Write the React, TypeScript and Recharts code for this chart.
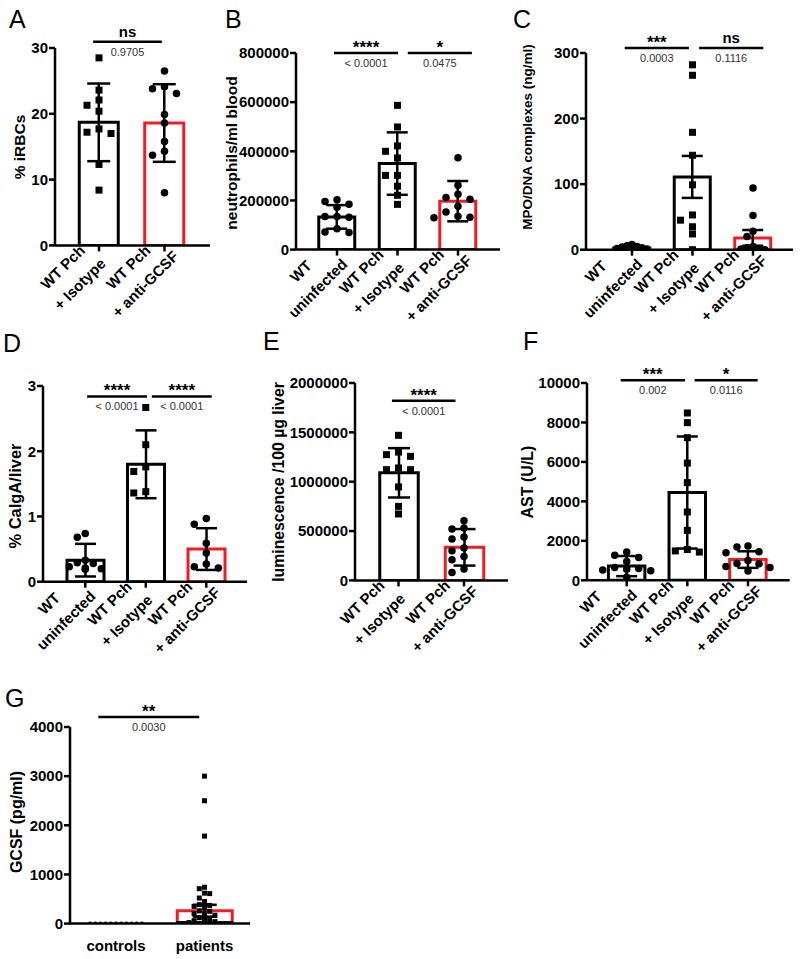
import React from 'react';
import { ComposedChart, Bar, Cell, ErrorBar, Scatter, XAxis, YAxis, ReferenceLine } from 'recharts';

const FONT = '"Liberation Sans", Arial, Helvetica, sans-serif';
const RED = '#ee1c25';
const BLACK = '#000';

// ---- data ----
const twoCats = ['WT Pch|+ Isotype', 'WT Pch|+ anti-GCSF'];
const threeCats = ['WT|uninfected', 'WT Pch|+ Isotype', 'WT Pch|+ anti-GCSF'];

// A: % iRBCs
const aMeans = [18.7, 18.6];
const aErrs = [5.9, 5.9];
const aIsotype = [28.5, 23.6, 22.1, 21.3, 20.4, 17.7, 17.2, 17.0, 12.3, 8.4];
const aAnti = [26.5, 24.1, 23.8, 23.1, 19.9, 18.6, 15.8, 14.3, 13.7, 8.0];
const aStars = ['ns'];
const aP = ['0.9705'];

// B: neutrophils/ml blood
const bMeans = [133000, 350000, 197000];
const bErrs = [48000, 127000, 82000];
const bUninf = [203000, 196000, 185000, 172000, 135000, 135000, 132000, 85000, 72000, 70000];
const bIsotype = [587000, 499000, 422000, 400000, 373000, 302000, 302000, 258000, 221000, 184000];
const bAnti = [374000, 262000, 225000, 212000, 205000, 176000, 153000, 136000, 132000, 130000];
const bStars = ['****', '*'];
const bP = ['< 0.0001', '0.0475'];

// C: MPO/DNA complexes
const cMeans = [2.5, 111, 18];
const cErrs = [1.5, 32, 12];
const cUninf = [8, 6, 5, 4, 3, 2, 1, 1, 0, 0];
const cIsotype = [282, 266, 179, 144, 99, 53, 45, 35, 24, 0];
const cAnti = [94, 52, 28, 20, 5, 3, 2, 1, 0, 0];
const cStars = ['***', 'ns'];
const cP = ['0.0003', '0.1116'];

// D: % CalgA/liver
const dMeans = [0.33, 1.8, 0.5];
const dErrs = [0.25, 0.52, 0.32];
const dUninf = [0.74, 0.68, 0.33, 0.29, 0.28, 0.23, 0.21, 0.2, 0.19];
const dIsotype = [2.67, 2.1, 1.76, 1.69, 1.38, 1.36];
const dAnti = [0.97, 0.88, 0.59, 0.44, 0.27, 0.23, 0.21];
const dStars = ['****', '****'];
const dP = ['< 0.0001', '< 0.0001'];

// E: luminescence /100 µg liver
const eMeans = [1090000, 335000];
const eErrs = [250000, 185000];
const eIsotype = [1470000, 1300000, 1274000, 1257000, 1139000, 1122000, 1122000, 947000, 750000, 673000];
const eAnti = [605000, 531000, 521000, 440000, 420000, 328000, 300000, 243000, 210000, 115000, 81000];
const eStars = ['****'];
const eP = ['< 0.0001'];

// F: AST (U/L)
const fMeans = [720, 4450, 1050];
const fErrs = [510, 2840, 420];
const fUninf = [1430, 1270, 1150, 950, 650, 600, 560, 520, 480, 150];
const fIsotype = [8480, 7990, 7230, 5940, 4950, 3460, 2530, 1560, 1490, 1430];
const fAnti = [1740, 1690, 1450, 1400, 1000, 850, 840, 700, 650, 470];
const fStars = ['***', '*'];
const fP = ['0.002', '0.0116'];

// G: GCSF (pg/ml)
const gCats = ['controls', 'patients'];
const gMeans = [0, 262];
const gErrs = [0, 120];
const gControls = [0, 0, 0, 0, 0, 0, 0, 0, 0, 0, 0];
const gPatients = [
  3000, 2500, 1780, 740, 710, 620, 610, 520, 450, 385, 370, 350, 330, 260, 250, 200, 200, 170,
  120, 100, 80, 60, 40, 20, 0, 0, 0, 0, 0, 0, 0, 0, 0, 0, 0, 0, 0, 0, 0, 0, 0, 0, 0, 0,
];
const gStars = ['**'];
const gP = ['0.0030'];

// simple column beeswarm: returns a column index per value
function swarm(values: number[], pxPerUnit: number, gap: number, maxCols: number): number[] {
  const cols = [0];
  for (let j = 1; j <= maxCols; j++) cols.push(-j, j);
  const placed: { c: number; y: number }[] = [];
  const out = values.map(() => 0);
  let spill = 0;
  values
    .map((_, i) => i)
    .sort((a, b) => values[b] - values[a])
    .forEach((i) => {
      const y = values[i] * pxPerUnit;
      let c = cols.find((cc) => placed.every((p) => p.c !== cc || Math.abs(p.y - y) >= gap));
      if (c === undefined) c = cols[spill++ % cols.length];
      placed.push({ c, y });
      out[i] = c;
    });
  return out;
}

const axisStyle = { stroke: BLACK, strokeWidth: 2.5 };

const Marker = ({ cx, cy, kind, size }: any) => {
  if (cx == null || cy == null) return null;
  if (kind === 'square') {
    return <rect x={cx - size / 2} y={cy - size / 2} width={size} height={size} fill={BLACK} />;
  }
  return <circle cx={cx} cy={cy} r={size / 2} fill={BLACK} />;
};

const SlantTick = ({ x, y, payload }: any) => {
  const lines = String(payload.value).split('|');
  return (
    <g transform={`translate(${x},${y - 6})`}>
      <text transform="rotate(-45)" textAnchor="middle" fontFamily={FONT} fontWeight="bold" fontSize={15} fill={BLACK}>
        {lines.map((t, i) => (
          <tspan key={i} x={-41} y={-5 + i * 24}>
            {t}
          </tspan>
        ))}
      </text>
    </g>
  );
};

const FlatTick = ({ x, y, payload }: any) => (
  <text x={x} y={y - 6 + 27} textAnchor="middle" fontFamily={FONT} fontWeight="bold" fontSize={15} fill={BLACK}>
    {payload.value}
  </text>
);

const bracketLabel = (stars: string, p: string) => (props: any) => {
  const vb = props.viewBox;
  if (!vb) return null;
  const cx = vb.x + (vb.width || 0) / 2;
  const y = vb.y;
  const ns = !stars.includes('*');
  return (
    <g>
      <text x={cx} y={ns ? y - 5 : y} textAnchor="middle" fontFamily={FONT} fontWeight="bold" fontSize={ns ? 15 : 17} fill={BLACK}>
        {stars}
      </text>
      <text x={cx} y={y + 14} textAnchor="middle" fontFamily={FONT} fontSize={11} fill="#333">
        {p}
      </text>
    </g>
  );
};

interface PanelCfg {
  left: number; top: number; w: number; h: number; padL: number; padR: number;
  yMax: number; yStep: number;
  cats: string[]; means: number[]; errs: number[]; colors: string[];
  groups: number[][]; shapes: string[]; sizes: number[]; steps: number[]; maxCols: number[];
  gap: number; barSize: number; capW: number;
  brackets: { x1: number; x2: number; y: number }[]; stars: string[]; ps: string[];
  slanted: boolean;
}

const Panel = ({ c }: { c: PanelCfg }) => {
  const n = c.cats.length;
  const bw = (c.w - c.padL - c.padR) / n;
  const ppu = c.h / c.yMax;
  const rows = c.cats.map((name, i) => ({ name, mean: c.means[i], err: c.errs[i] }));
  const ticks: number[] = [];
  for (let k = 0; k * c.yStep <= c.yMax + 1e-9; k++) ticks.push(k * c.yStep);
  return (
    <div style={{ position: 'absolute', left: c.left - 80, top: c.top - 45 }}>
      <ComposedChart width={c.w + 90} height={c.h + 155} data={rows} margin={{ top: 45, right: 10, bottom: 0, left: 0 }}>
        <XAxis
          xAxisId="cat" dataKey="name" type="category" height={110} interval={0}
          padding={{ left: c.padL, right: c.padR }}
          axisLine={axisStyle} tickLine={c.slanted ? axisStyle : false} tickSize={6} tickMargin={0}
          tick={c.slanted ? <SlantTick /> : <FlatTick />}
        />
        <XAxis xAxisId="num" dataKey="x" type="number" domain={[-0.5, n - 0.5]} allowDataOverflow hide padding={{ left: c.padL, right: c.padR }} />
        <YAxis
          dataKey="y" type="number" domain={[0, c.yMax]} allowDataOverflow ticks={ticks} interval={0} width={80}
          axisLine={axisStyle} tickLine={axisStyle} tickSize={6} tickMargin={1}
          tick={{ fill: BLACK, fontSize: 15, fontWeight: 'bold', fontFamily: FONT }}
        />
        <Bar xAxisId="cat" dataKey="mean" barSize={c.barSize} fill="none" strokeWidth={3} isAnimationActive={false}>
          {rows.map((_, i) => (
            <Cell key={i} stroke={c.colors[i]} fill="none" />
          ))}
          <ErrorBar dataKey="err" width={c.capW} strokeWidth={2.5} stroke={BLACK} direction="y" />
        </Bar>
        {c.groups.map((vals, gi) => {
          const cols = swarm(vals, ppu, c.gap, c.maxCols[gi]);
          const pts = vals.map((v, k) => ({ x: gi + (cols[k] * c.steps[gi]) / bw, y: v }));
          return (
            <Scatter
              key={gi} xAxisId="num" data={pts} dataKey="y" isAnimationActive={false}
              shape={(p: any) => <Marker cx={p.cx} cy={p.cy} kind={c.shapes[gi]} size={c.sizes[gi]} />}
            />
          );
        })}
        {c.brackets.map((b, i) => (
          <ReferenceLine
            key={i} xAxisId="num" ifOverflow="visible" stroke={BLACK} strokeWidth={2.5}
            segment={[{ x: b.x1, y: b.y }, { x: b.x2, y: b.y }]}
            label={bracketLabel(c.stars[i], c.ps[i])}
          />
        ))}
      </ComposedChart>
    </div>
  );
};

const sq = 'square';
const ci = 'circle';

const panels: PanelCfg[] = [
  {
    left: 55, top: 48.3, w: 155, h: 197.4, padL: 11.25, padR: 12.75, yMax: 30, yStep: 10,
    cats: twoCats, means: aMeans, errs: aErrs, colors: [BLACK, RED],
    groups: [aIsotype, aAnti], shapes: [sq, ci], sizes: [7, 7.5], steps: [12, 12], maxCols: [3, 3],
    gap: 7, barSize: 39, capW: 11.5,
    brackets: [{ x1: -0.09, x2: 0.96, y: 30.96 }], stars: aStars, ps: aP, slanted: true,
  },
  {
    left: 296, top: 52.7, w: 204, h: 196.6, padL: 10.75, padR: 11.75, yMax: 800000, yStep: 200000,
    cats: threeCats, means: bMeans, errs: bErrs, colors: [BLACK, BLACK, RED],
    groups: [bUninf, bIsotype, bAnti], shapes: [ci, sq, ci], sizes: [7.5, 7, 7.5], steps: [12, 12, 12], maxCols: [3, 3, 3],
    gap: 7, barSize: 36, capW: 10.5,
    brackets: [{ x1: -0.05, x2: 1.01, y: 800000 }, { x1: 1.17, x2: 2.23, y: 800000 }], stars: bStars, ps: bP, slanted: true,
  },
  {
    left: 586, top: 53.3, w: 207, h: 196.7, padL: 15.75, padR: 9.75, yMax: 300, yStep: 100,
    cats: threeCats, means: cMeans, errs: cErrs, colors: [BLACK, BLACK, RED],
    groups: [cUninf, cIsotype, cAnti], shapes: [ci, sq, ci], sizes: [7.5, 7, 7.5], steps: [5, 12, 6], maxCols: [3, 3, 2],
    gap: 7, barSize: 36, capW: 10.5,
    brackets: [{ x1: -0.12, x2: 0.94, y: 307.6 }, { x1: 1.11, x2: 2.17, y: 307.6 }], stars: cStars, ps: cP, slanted: true,
  },
  {
    left: 42.7, top: 386, w: 204, h: 195.7, padL: 12, padR: 10.45, yMax: 3, yStep: 1,
    cats: threeCats, means: dMeans, errs: dErrs, colors: [BLACK, BLACK, RED],
    groups: [dUninf, dIsotype, dAnti], shapes: [ci, sq, ci], sizes: [7.5, 7, 7.5], steps: [8, 12, 12], maxCols: [2, 2, 2],
    gap: 7, barSize: 37, capW: 10.5,
    brackets: [{ x1: 0.03, x2: 1.02, y: 2.84 }, { x1: 1.1, x2: 2.09, y: 2.84 }], stars: dStars, ps: dP, slanted: true,
  },
  {
    left: 355, top: 383.3, w: 153, h: 197.4, padL: 10.75, padR: 11.25, yMax: 2000000, yStep: 500000,
    cats: twoCats, means: eMeans, errs: eErrs, colors: [BLACK, RED],
    groups: [eIsotype, eAnti], shapes: [sq, ci], sizes: [7, 7.5], steps: [12, 12], maxCols: [2, 2],
    gap: 7, barSize: 38.5, capW: 11,
    brackets: [{ x1: -0.1, x2: 0.87, y: 1820000 }], stars: eStars, ps: eP, slanted: true,
  },
  {
    left: 587.3, top: 382.7, w: 202.7, h: 197.3, padL: 9.4, padR: 11.4, yMax: 10000, yStep: 2000,
    cats: threeCats, means: fMeans, errs: fErrs, colors: [BLACK, BLACK, RED],
    groups: [fUninf, fIsotype, fAnti], shapes: [ci, sq, ci], sizes: [7.5, 7, 7.5], steps: [12, 12, 11], maxCols: [2, 2, 2],
    gap: 7, barSize: 36.5, capW: 10.5,
    brackets: [{ x1: -0.1, x2: 0.96, y: 10137 }, { x1: 1.12, x2: 2.16, y: 10137 }], stars: fStars, ps: fP, slanted: true,
  },
  {
    left: 70, top: 726.7, w: 180, h: 196.6, padL: 1.75, padR: 1.25, yMax: 4000, yStep: 1000,
    cats: gCats, means: gMeans, errs: gErrs, colors: [BLACK, RED],
    groups: [gControls, gPatients], shapes: [ci, sq], sizes: [4, 5], steps: [5.2, 5.2], maxCols: [5, 5],
    gap: 5, barSize: 55, capW: 12,
    brackets: [{ x1: -0.2, x2: 0.94, y: 4203 }], stars: gStars, ps: gP, slanted: false,
  },
];

const letters = [
  { t: 'A', x: 9, y: 28 }, { t: 'B', x: 225, y: 28 }, { t: 'C', x: 513, y: 28 },
  { t: 'D', x: 3, y: 352 }, { t: 'E', x: 263, y: 350 }, { t: 'F', x: 523, y: 350 }, { t: 'G', x: 5, y: 707 },
];

const titles = [
  { t: '% iRBCs', x: 19, y: 147, s: 15.5 },
  { t: 'neutrophils/ml blood', x: 231, y: 153, s: 15.5 },
  { t: 'MPO/DNA complexes (ng/ml)', x: 527, y: 137, s: 13.5 },
  { t: '% CalgA/liver', x: 15, y: 496, s: 16.4 },
  { t: 'luminescence /100 µg liver', x: 278, y: 482, s: 15.8 },
  { t: 'AST (U/L)', x: 527, y: 482, s: 16 },
  { t: 'GCSF (pg/ml)', x: 16, y: 822, s: 16 },
];

export default function App() {
  return (
    <div style={{ position: 'absolute', left: 0, top: 0, width: 800, height: 959, background: '#fff', fontFamily: FONT, overflow: 'hidden' }}>
      {panels.map((p, i) => (
        <Panel key={i} c={p} />
      ))}
      <svg width={800} height={959} style={{ position: 'absolute', left: 0, top: 0, pointerEvents: 'none' }}>
        {letters.map((l) => (
          <text key={l.t} x={l.x} y={l.y} fontFamily={FONT} fontSize={25} fill={BLACK}>
            {l.t}
          </text>
        ))}
        {titles.map((t) => (
          <text
            key={t.t} transform={`translate(${t.x},${t.y}) rotate(-90)`} textAnchor="middle" dominantBaseline="central"
            fontFamily={FONT} fontWeight="bold" fontSize={t.s} fill={BLACK}
          >
            {t.t}
          </text>
        ))}
      </svg>
    </div>
  );
}
